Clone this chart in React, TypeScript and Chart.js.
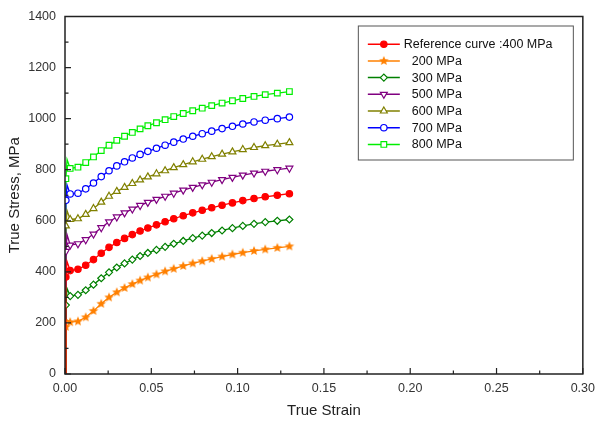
import React, { useEffect, useRef } from 'react';
import { Chart, registerables, PointElement } from 'chart.js';

Chart.register(...registerables);

// True strain sample points (shared by all curves)
const strain = [0, 0.0005, 0.0012, 0.003, 0.0075, 0.012, 0.0165, 0.021, 0.0255, 0.03, 0.0345, 0.039, 0.0435, 0.048, 0.053, 0.058, 0.063, 0.0685, 0.074, 0.0795, 0.085, 0.091, 0.097, 0.103, 0.1095, 0.116, 0.123, 0.13];

// True stress (MPa) for each curve
const ref400 = [0, 380, 440, 405, 410, 426, 448, 473, 496, 515, 531, 546, 560, 572, 584, 596, 608, 620, 631, 641, 651, 661, 670, 679, 687, 694, 700, 706];
const s200 = [0, 185, 212, 203, 206, 222, 247, 275, 300, 320, 337, 352, 366, 378, 390, 402, 412, 423, 433, 442, 451, 460, 468, 475, 482, 488, 494, 500];
const s300 = [0, 270, 335, 305, 310, 328, 350, 375, 398, 417, 433, 448, 462, 474, 486, 498, 510, 521, 532, 542, 552, 562, 571, 580, 588, 595, 600, 605];
const s500 = [0, 480, 545, 505, 510, 526, 548, 573, 596, 615, 631, 646, 660, 672, 684, 696, 708, 720, 731, 741, 751, 761, 770, 779, 787, 794, 800, 806];
const s600 = [0, 580, 640, 605, 608, 625, 648, 673, 696, 715, 731, 746, 760, 772, 784, 796, 808, 820, 831, 841, 851, 861, 870, 879, 887, 894, 900, 906];
const s700 = [0, 680, 740, 705, 708, 725, 748, 773, 796, 815, 831, 846, 860, 872, 884, 896, 908, 920, 931, 941, 951, 961, 970, 979, 987, 994, 1000, 1006];
const s800 = [0, 765, 840, 805, 810, 828, 850, 875, 896, 915, 931, 946, 960, 972, 984, 996, 1008, 1020, 1031, 1041, 1051, 1061, 1070, 1079, 1087, 1094, 1100, 1106];

const seriesLabels = ['Reference curve :400 MPa', '200 MPa', '300 MPa', '500 MPa', '600 MPa', '700 MPa', '800 MPa'];
const seriesValues = [ref400, s200, s300, s500, s600, s700, s800];

const xTickMax = 0.3;
const yTickMax = 1400;

const FONT = '"Liberation Sans", Arial, sans-serif';

function makeStar(color: string, r: number): HTMLCanvasElement {
  const size = Math.ceil(r * 2 + 2);
  const c = document.createElement('canvas');
  c.width = size;
  c.height = size;
  const g = c.getContext('2d')!;
  const cx = size / 2, cy = size / 2;
  g.beginPath();
  for (let i = 0; i < 10; i++) {
    const rad = i % 2 === 0 ? r : r * 0.45;
    const a = -Math.PI / 2 + (i * Math.PI) / 5;
    const px = cx + rad * Math.cos(a);
    const py = cy + rad * Math.sin(a);
    if (i === 0) g.moveTo(px, py);
    else g.lineTo(px, py);
  }
  g.closePath();
  g.fillStyle = color;
  g.fill();
  return c;
}

export default function App() {
  const ref = useRef<HTMLCanvasElement>(null);

  useEffect(() => {
    document.body.style.margin = '0';
    const star = makeStar('#ff8000', 5);

    const styles = [
      { color: '#ff0000', fill: '#ff0000', pointStyle: 'circle', radius: 3.2, rotation: 0 },
      { color: '#ff8000', fill: '#ff8000', pointStyle: star, radius: 5, rotation: 0 },
      { color: '#008000', fill: '#ffffff', pointStyle: 'rectRot', radius: 3.5, rotation: 0 },
      { color: '#800080', fill: '#ffffff', pointStyle: 'triangle', radius: 4, rotation: 180 },
      { color: '#808000', fill: '#ffffff', pointStyle: 'triangle', radius: 4, rotation: 0 },
      { color: '#0000ff', fill: '#ffffff', pointStyle: 'circle', radius: 3.2, rotation: 0 },
      { color: '#00ee00', fill: '#ffffff', pointStyle: 'rect', radius: 4, rotation: 0 },
    ];

    const datasets = seriesValues.map((vals, si) => {
      const st = styles[si];
      return {
        label: seriesLabels[si],
        data: strain.map((x, i) => ({ x, y: vals[i] })),
        borderColor: st.color,
        backgroundColor: st.fill,
        borderWidth: 1.3,
        pointStyle: st.pointStyle as any,
        pointRotation: st.rotation,
        pointRadius: (ctx: any) => (ctx.dataIndex === 0 || ctx.dataIndex === 2 ? 0 : st.radius),
        pointBorderColor: st.color,
        pointBackgroundColor: st.fill,
        pointBorderWidth: 1.2,
        tension: 0,
        showLine: true,
      };
    });

    const framePlugin = {
      id: 'frameTicks',
      afterDatasetsDraw(chart: any) {
        const { ctx, chartArea: a, scales } = chart;
        ctx.save();
        ctx.strokeStyle = '#222';
        ctx.lineWidth = 1.5;
        ctx.strokeRect(a.left, a.top, a.right - a.left, a.bottom - a.top);
        ctx.lineWidth = 1.2;
        ctx.beginPath();
        for (let k = 0; k <= 12; k++) {
          const v = (xTickMax / 12) * k;
          const px = scales.x.getPixelForValue(v);
          const len = k % 2 === 0 ? 6 : 3.5;
          ctx.moveTo(px, a.bottom);
          ctx.lineTo(px, a.bottom - len);
        }
        for (let k = 0; k <= 14; k++) {
          const v = (yTickMax / 14) * k;
          const py = scales.y.getPixelForValue(v);
          const len = k % 2 === 0 ? 6 : 3.5;
          ctx.moveTo(a.left, py);
          ctx.lineTo(a.left + len, py);
        }
        ctx.stroke();
        ctx.restore();
      },
    };

    const legendPlugin = {
      id: 'insideLegend',
      afterDraw(chart: any) {
        const { ctx, chartArea: a } = chart;
        const boxRight = a.right - 10;
        const boxLeft = boxRight - 215;
        const boxTop = a.top + 9;
        const boxBottom = boxTop + 134;
        ctx.save();
        ctx.fillStyle = '#ffffff';
        ctx.fillRect(boxLeft, boxTop, boxRight - boxLeft, boxBottom - boxTop);
        ctx.strokeStyle = '#555';
        ctx.lineWidth = 1;
        ctx.strokeRect(boxLeft + 0.5, boxTop + 0.5, boxRight - boxLeft, boxBottom - boxTop);
        chart.data.datasets.forEach((ds: any, i: number) => {
          const st = styles[i];
          const y = boxTop + 18.7 + i * 16.7;
          const x0 = boxLeft + 10;
          const x1 = x0 + 32;
          ctx.strokeStyle = st.color;
          ctx.lineWidth = 1.5;
          ctx.beginPath();
          ctx.moveTo(x0, y);
          ctx.lineTo(x1, y);
          ctx.stroke();
          const p: any = new (PointElement as any)({
            x: (x0 + x1) / 2,
            y,
            options: {
              pointStyle: st.pointStyle,
              rotation: st.rotation,
              radius: st.radius,
              borderWidth: 1.2,
              borderColor: st.color,
              backgroundColor: st.fill,
            },
          });
          p.draw(ctx);
          ctx.fillStyle = '#111';
          ctx.font = `12.5px ${FONT}`;
          ctx.textBaseline = 'middle';
          ctx.textAlign = 'left';
          ctx.fillText(ds.label, i === 0 ? x1 + 4 : x1 + 12, y + 0.5);
        });
        ctx.restore();
      },
    };

    const chart = new Chart(ref.current!, {
      type: 'scatter',
      data: { datasets: datasets as any },
      options: {
        animation: false,
        responsive: true,
        maintainAspectRatio: false,
        layout: { padding: { top: 14, right: 14, left: 0, bottom: 0 } },
        plugins: { legend: { display: false }, tooltip: { enabled: false } },
        scales: {
          x: {
            type: 'linear',
            min: 0,
            max: xTickMax,
            grid: { display: false, drawTicks: false },
            border: { display: false },
            ticks: {
              stepSize: 0.05,
              padding: 7,
              color: '#333',
              font: { family: FONT, size: 12.5 },
              callback: (v: any) => Number(v).toFixed(2),
            },
            title: {
              display: true,
              text: 'True Strain',
              color: '#222',
              font: { family: FONT, size: 15 },
              padding: { top: 0, bottom: 1 },
            },
            afterFit: (s: any) => {
              s.height = 47;
            },
          },
          y: {
            type: 'linear',
            min: 0,
            max: yTickMax,
            grid: { display: false, drawTicks: false },
            border: { display: false },
            ticks: {
              stepSize: 200,
              padding: 9,
              color: '#333',
              font: { family: FONT, size: 12.5 },
              callback: (v: any) => String(Math.round(Number(v))),
            },
            title: {
              display: true,
              text: 'True Stress, MPa',
              color: '#222',
              font: { family: FONT, size: 15 },
              padding: { top: 6, bottom: 0 },
            },
            afterFit: (s: any) => {
              s.width = 65;
            },
          },
        },
      },
      plugins: [framePlugin, legendPlugin],
    });
    return () => chart.destroy();
  }, []);

  return (
    <div style={{ width: 602, height: 421, position: 'relative' }}>
      <canvas ref={ref} />
    </div>
  );
}
